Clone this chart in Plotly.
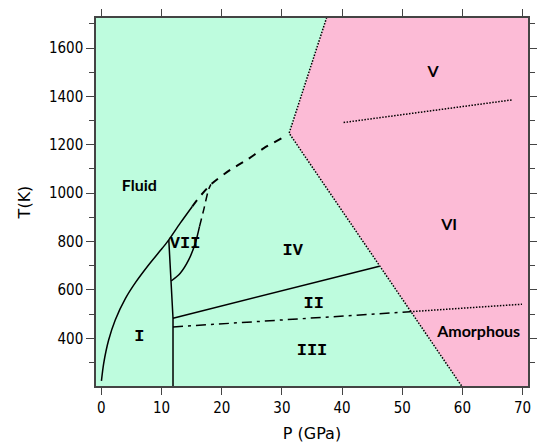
import plotly.graph_objects as go

# ---------------- data (P in GPa, T in K) ----------------
X_RANGE = [-0.9, 70.9]
Y_RANGE = [203, 1724]
X_TICKS = [0, 10, 20, 30, 40, 50, 60, 70]
Y_TICKS = [400, 600, 800, 1000, 1200, 1400, 1600]

# melting curve of phase I (Fluid / I boundary) + Fluid/VII solid part
melt_P = [0.0, 0.38, 1.2, 2.3, 4.0, 5.65, 7.9, 10.1, 11.2, 13.1, 15.1]
melt_T = [224, 297, 393, 476, 565, 630, 705, 772, 807, 876, 945]

# dashed continuation of melting line
meltd_P = [15.1, 15.9, 18.2, 21.4, 24.2, 27.0, 30.0, 30.4]
meltd_T = [945, 972, 1036, 1096, 1138, 1186, 1228, 1234]

# I / III / VII near-vertical boundary
vert_P = [11.9, 11.9, 11.2]
vert_T = [203, 483, 807]

# VII / IV boundary (solid part)
vii_P = [11.6, 13.1, 14.5, 15.6, 16.3]
vii_T = [637, 669, 724, 793, 862]
# VII / IV boundary (dashed part)
viid_P = [16.3, 17.0, 17.8, 18.2]
viid_T = [862, 931, 1014, 1036]

# II / IV boundary
ii_iv_P = [11.9, 46.2]
ii_iv_T = [483, 698]

# II / III boundary (dash-dot)
ii_iii_P = [11.9, 51.3]
ii_iii_T = [447, 510]

# amorphous boundary (dotted)
amor_P = [51.3, 69.9]
amor_T = [510, 541]

# V / VI boundary (dotted)
v_vi_P = [40.25, 68.4]
v_vi_T = [1292, 1386]

# pink region boundary (dotted)
bound_P = [37.75, 31.2, 60.5]
bound_T = [1750, 1248, 180]

# labels
word_labels = ["Fluid", "V", "VI", "Amorphous"]
word_P = [6.3, 55.1, 57.8, 62.7]
word_T = [1025, 1496, 865, 423]

roman_labels = ["I", "II", "III", "IV", "VII"]
roman_P = [6.3, 35.3, 35.0, 31.8, 13.9]
roman_T = [407, 545, 349, 761, 790]

GREEN = "rgb(190,252,222)"
PINK = "rgb(252,187,214)"

fig = go.Figure()

# pink region
fill_P = bound_P + [X_RANGE[1] + 5, X_RANGE[1] + 5]
fill_T = bound_T + [bound_T[-1], bound_T[0]]
fig.add_trace(go.Scatter(x=fill_P, y=fill_T, fill="toself", fillcolor=PINK,
                         mode="none", hoverinfo="skip", showlegend=False))

def line(x, y, dash="solid", width=1.5, shape="linear"):
    fig.add_trace(go.Scatter(x=x, y=y, mode="lines",
                             line=dict(color="black", width=width, dash=dash, shape=shape,
                                       smoothing=0.8),
                             hoverinfo="skip", showlegend=False))

DOT = "1.5px,1.5px"
line(bound_P, bound_T, DOT, 1.5)
line(v_vi_P, v_vi_T, DOT, 1.5)
line(amor_P, amor_T, DOT, 1.5)
line(melt_P, melt_T, "solid", 1.5, "spline")
line(meltd_P, meltd_T, "8px,7px", 2, "spline")
line(vert_P, vert_T, "solid", 1.5)
line(vii_P, vii_T, "solid", 1.5, "spline")
line(viid_P, viid_T, "8px,5px", 1.5, "spline")
line(ii_iv_P, ii_iv_T, "solid", 1.5)
line(ii_iii_P, ii_iii_T, "10px,5px,3px,5px", 1.5)

fig.add_trace(go.Scatter(x=word_P, y=word_T, mode="text", text=word_labels,
                         textfont=dict(family="Comic Sans MS, Lato, Liberation Sans", size=16,
                                       color="black", weight="bold"),
                         hoverinfo="skip", showlegend=False))
fig.add_trace(go.Scatter(x=roman_P, y=roman_T, mode="text", text=roman_labels,
                         textfont=dict(family="Liberation Mono, Courier New, monospace", size=17,
                                       color="black", weight="bold"),
                         hoverinfo="skip", showlegend=False))

TICKFONT = dict(family="DejaVu Sans Condensed, Liberation Sans, sans-serif", size=15, color="black")
AXCOL = "#444444"

fig.update_layout(
    width=537, height=448,
    margin=dict(l=96, r=9, t=18, b=62),
    paper_bgcolor="white",
    plot_bgcolor=GREEN,
    xaxis=dict(range=X_RANGE, tickvals=X_TICKS, ticks="outside", ticklen=7,
               tickcolor=AXCOL, showline=True, linecolor=AXCOL, linewidth=1.5,
               mirror="ticks", showgrid=False, zeroline=False, tickfont=TICKFONT,
               automargin=False,
               title=dict(text="P (GPa)", standoff=12,
                          font=dict(family="DejaVu Sans, sans-serif", size=16, color="black"))),
    yaxis=dict(range=Y_RANGE, tickvals=Y_TICKS, ticks="outside", ticklen=8,
               tickcolor=AXCOL, showline=True, linecolor=AXCOL, linewidth=1.5,
               mirror="ticks", showgrid=False, zeroline=False, tickfont=TICKFONT,
               automargin=False,
               minor=dict(dtick=100, tick0=100, ticks="outside", ticklen=5, tickcolor=AXCOL,
                          showgrid=False),
               title=dict(text="T(K)", standoff=14,
                          font=dict(family="DejaVu Sans, sans-serif", size=16, color="black"))),
)

fig.write_html("out.html")
